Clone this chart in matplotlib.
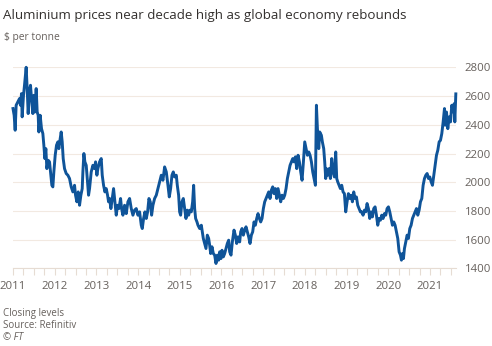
import matplotlib.pyplot as plt
from matplotlib.ticker import MultipleLocator

# aluminium closing price, $ per tonne (decimal years)
years = [2011.00, 2011.028, 2011.052, 2011.076, 2011.116, 2011.156, 2011.180, 2011.204, 2011.220, 2011.252,
         2011.276, 2011.316, 2011.340, 2011.364, 2011.396, 2011.420, 2011.444, 2011.476, 2011.500, 2011.524,
         2011.556, 2011.580, 2011.604, 2011.620, 2011.652, 2011.684, 2011.716, 2011.740, 2011.764, 2011.788,
         2011.812, 2011.844, 2011.876, 2011.908, 2011.932, 2011.956, 2011.980, 2012.012, 2012.044, 2012.076,
         2012.100, 2012.132, 2012.156, 2012.180, 2012.204, 2012.236, 2012.276, 2012.316, 2012.356, 2012.396,
         2012.436, 2012.476, 2012.500, 2012.532, 2012.564, 2012.596, 2012.628, 2012.660, 2012.676, 2012.700,
         2012.724, 2012.756, 2012.780, 2012.812, 2012.836, 2012.876, 2012.916, 2012.956, 2012.980, 2013.012,
         2013.036, 2013.076, 2013.116, 2013.140, 2013.172, 2013.204, 2013.236, 2013.268, 2013.292, 2013.316,
         2013.348, 2013.380, 2013.412, 2013.444, 2013.476, 2013.508, 2013.540, 2013.580, 2013.604, 2013.636,
         2013.676, 2013.716, 2013.756, 2013.796, 2013.836, 2013.876, 2013.916, 2013.956, 2013.996, 2014.036,
         2014.076, 2014.100, 2014.132, 2014.164, 2014.196, 2014.228, 2014.260, 2014.292, 2014.324, 2014.356,
         2014.396, 2014.436, 2014.476, 2014.516, 2014.556, 2014.596,
         2014.636, 2014.676, 2014.716, 2014.748, 2014.780, 2014.812, 2014.844, 2014.876, 2014.916, 2014.940,
         2014.972, 2014.996, 2015.020, 2015.052, 2015.084, 2015.116, 2015.148, 2015.180, 2015.212, 2015.244,
         2015.276, 2015.308, 2015.332, 2015.356, 2015.380, 2015.412, 2015.436, 2015.476, 2015.516, 2015.540,
         2015.564, 2015.596, 2015.628, 2015.660, 2015.692, 2015.716, 2015.740, 2015.772, 2015.804, 2015.836,
         2015.868, 2015.900, 2015.932, 2015.956, 2015.988, 2016.012, 2016.044, 2016.076, 2016.108, 2016.140,
         2016.172, 2016.196, 2016.228, 2016.260, 2016.300, 2016.332, 2016.364, 2016.396, 2016.436, 2016.460,
         2016.492, 2016.524, 2016.556, 2016.588, 2016.620, 2016.652, 2016.684, 2016.716, 2016.748, 2016.780,
         2016.812, 2016.844, 2016.876, 2016.908, 2016.940, 2016.972, 2017.004, 2017.036, 2017.068, 2017.100,
         2017.132, 2017.164, 2017.196, 2017.228, 2017.260, 2017.292, 2017.324, 2017.356, 2017.388, 2017.420,
         2017.452, 2017.484, 2017.516, 2017.548, 2017.580, 2017.612, 2017.644, 2017.676, 2017.708, 2017.740,
         2017.772, 2017.804, 2017.836, 2017.868, 2017.900, 2017.932, 2017.964, 2017.996, 2018.028, 2018.060,
         2018.092, 2018.124, 2018.156, 2018.188, 2018.220, 2018.252, 2018.276, 2018.300, 2018.332,
         2018.355, 2018.395, 2018.419, 2018.451, 2018.475, 2018.499, 2018.515, 2018.547, 2018.579, 2018.611,
         2018.643, 2018.675, 2018.707, 2018.739, 2018.763, 2018.787, 2018.819, 2018.851, 2018.883, 2018.915,
         2018.947, 2018.979, 2019.011, 2019.043, 2019.075, 2019.107, 2019.139, 2019.171, 2019.203, 2019.235,
         2019.267, 2019.299, 2019.331, 2019.363, 2019.395, 2019.427, 2019.459, 2019.491, 2019.523, 2019.555,
         2019.587, 2019.619, 2019.651, 2019.683, 2019.715, 2019.747, 2019.779, 2019.811, 2019.843, 2019.875,
         2019.907, 2019.939, 2019.971, 2020.003, 2020.035, 2020.067, 2020.099, 2020.131, 2020.163, 2020.195,
         2020.227, 2020.259, 2020.291, 2020.315, 2020.339, 2020.363, 2020.387, 2020.419, 2020.451, 2020.483,
         2020.515, 2020.547, 2020.579, 2020.611, 2020.643, 2020.675, 2020.707, 2020.739, 2020.771, 2020.803,
         2020.835, 2020.867, 2020.899, 2020.931, 2020.963, 2020.995, 2021.027, 2021.059, 2021.091, 2021.123,
         2021.155, 2021.187, 2021.219, 2021.251, 2021.283, 2021.315, 2021.347, 2021.363, 2021.395, 2021.427,
         2021.459, 2021.491, 2021.523, 2021.555, 2021.579, 2021.595, 2021.619]
prices = [2513, 2466, 2362, 2536, 2559, 2582, 2536, 2617, 2455, 2605,
          2675, 2800, 2652, 2478, 2640, 2675, 2582, 2478, 2605, 2489,
          2652, 2489, 2466, 2350, 2466, 2373, 2339, 2258, 2165, 2234,
          2095, 2153, 2142, 2049, 1979, 1968, 2072, 2188, 2258, 2281,
          2234, 2304, 2350, 2281, 2165, 2095, 2061, 2049, 2026, 1968,
          1933, 1979, 1910, 1864, 1933, 1840, 1910, 1956, 2072, 2200,
          2142, 2118, 2026, 1910, 1956, 2072, 2118, 2095, 2142, 2049,
          2095, 2142, 2165, 2049, 1979, 1933, 1956, 1910, 1864, 1887,
          1817, 1887, 1956, 1864, 1771, 1840, 1817, 1887, 1817, 1771,
          1840, 1782, 1864, 1887, 1817, 1771, 1806, 1817, 1771, 1794,
          1701, 1678, 1748, 1794, 1748, 1794, 1887, 1864, 1771, 1840,
          1887, 1910, 1956, 2003, 2049, 2014,
          2107, 2072, 1979, 1898, 1956, 2049, 2072, 2037, 2049, 1979,
          1910, 1794, 1771, 1864, 1887, 1817, 1748, 1806, 1771, 1806,
          1794, 1864, 1979, 1817, 1748, 1724, 1701, 1678, 1701, 1655,
          1609, 1574, 1539, 1632, 1609, 1562, 1504, 1551, 1504, 1493,
          1435, 1493, 1458, 1516, 1469, 1527, 1481, 1504, 1539, 1574,
          1597, 1516, 1493, 1585, 1667, 1632, 1574, 1620, 1585, 1655,
          1678, 1632, 1667, 1690, 1655, 1620, 1574, 1632, 1655, 1724,
          1701, 1748, 1782, 1748, 1724, 1748, 1817, 1864, 1887, 1910,
          1933, 1887, 1945, 1968, 1921, 1956, 1887, 1956, 1910, 1864,
          1910, 1887, 1910, 1956, 2026, 2072, 2118, 2142, 2165, 2142,
          2177, 2095, 2188, 2142, 2072, 2014, 2142, 2281, 2234, 2188,
          2211, 2188, 2142, 2072, 2026, 1979, 2536, 2373, 2234,
          2350, 2327, 2281, 2234, 2142, 2026, 2095, 2049, 2095, 2026,
          2165, 2072, 2037, 2211, 2026, 2003, 1979, 1956, 1979, 1933,
          1921, 1794, 1864, 1921, 1887, 1910, 1864, 1933, 1887, 1898,
          1840, 1817, 1794, 1794, 1771, 1806, 1794, 1852, 1817, 1748,
          1794, 1759, 1817, 1829, 1771, 1701, 1748, 1736, 1771, 1748,
          1782, 1771, 1817, 1829, 1794, 1748, 1701, 1724, 1701, 1655,
          1609, 1516, 1493, 1458, 1504, 1469, 1539, 1585, 1632, 1609,
          1678, 1701, 1748, 1771, 1794, 1817, 1771, 1806, 1864, 1887,
          1979, 2026, 2049, 2061, 2026, 2037, 2003, 1979, 2049, 2118,
          2188, 2223, 2281, 2292, 2339, 2420, 2513, 2397, 2489, 2373,
          2455, 2420, 2536, 2489, 2547, 2420, 2615]

year_ticks = list(range(2011, 2022))
price_ticks = [1400, 1600, 1800, 2000, 2200, 2400, 2600, 2800]

plt.rcParams['font.family'] = ['Open Sans', 'DejaVu Sans']

fig = plt.figure(figsize=(4.92, 3.46), dpi=100)
ax = fig.add_axes([0.0264, 0.224, 0.901, 0.5815])

ax.plot(years, prices, color='#0f5499', lw=2.1, zorder=3, clip_on=False)

ax.set_xlim(2011.0, 2021.63)
ax.set_ylim(1400, 2800)

ax.set_yticks(price_ticks)
ax.yaxis.tick_right()
ax.tick_params(axis='y', length=0, pad=6, labelsize=8.2, labelcolor='#66605c')
ax.grid(axis='y', color='#f2e9e1', lw=0.8, zorder=0)

ax.set_xticks(year_ticks)
ax.xaxis.set_minor_locator(MultipleLocator(0.25))
ax.tick_params(axis='x', which='both', length=5, width=0.8, color='#e6dcd3',
               pad=4, labelsize=8.2, labelcolor='#66605c')

for s in ['top', 'left', 'right']:
    ax.spines[s].set_visible(False)
ax.spines['bottom'].set_color('#e6dcd3')
ax.spines['bottom'].set_linewidth(0.8)

fig.text(0.006, 0.945, 'Aluminium prices near decade high as global economy rebounds',
         fontsize=9.6, color='#33302e')
fig.text(0.008, 0.883, '$ per tonne', fontsize=7.4, color='#66605c')
fig.text(0.006, 0.087, 'Closing levels', fontsize=7, color='#66605c')
fig.text(0.006, 0.052, 'Source: Refinitiv', fontsize=7, color='#66605c')
fig.text(0.006, 0.016, '© FT', fontsize=7, color='#66605c', style='italic')

fig.savefig('out.png', dpi=100)
